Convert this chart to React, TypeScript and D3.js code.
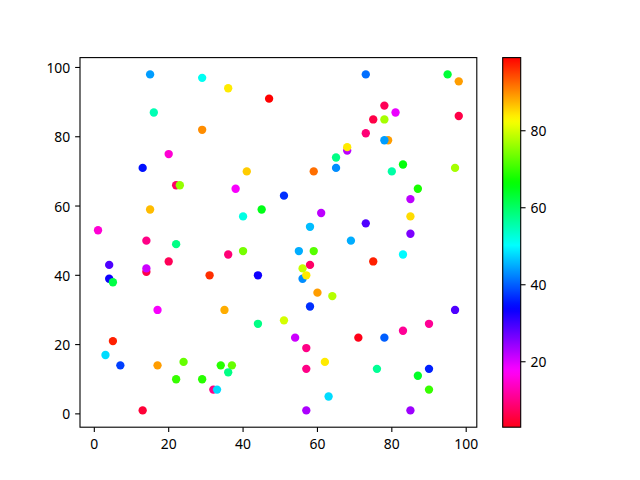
import React from "react";
import * as d3 from "d3";

// ---- data ----
const xs = [15, 29, 16, 29, 20, 13, 36, 47, 41, 59, 65, 65, 68, 68, 73, 95, 98, 78, 81, 75, 78, 98, 73, 79, 78, 83, 80, 97, 22, 23, 15, 1, 14, 22, 20, 4, 14, 14, 4, 5, 31, 38, 51, 45, 40, 61, 58, 36, 40, 55, 59, 56, 58, 56, 57, 44, 60, 64, 58, 87, 85, 85, 73, 85, 69, 83, 75, 17, 5, 3, 7, 17, 24, 22, 29, 32, 33, 13, 35, 44, 51, 54, 57, 62, 57, 34, 37, 36, 63, 57, 97, 90, 83, 71, 78, 76, 90, 87, 90, 85];
const ys = [98, 97, 87, 82, 75, 71, 94, 91, 70, 70, 71, 74, 76, 77, 98, 98, 96, 89, 87, 85, 85, 86, 81, 79, 79, 72, 70, 71, 66, 66, 59, 53, 50, 49, 44, 43, 41, 42, 39, 38, 40, 65, 63, 59, 57, 58, 54, 46, 47, 47, 47, 42, 43, 39, 40, 40, 35, 34, 31, 65, 62, 57, 55, 52, 50, 46, 44, 30, 21, 17, 14, 14, 15, 10, 10, 7, 7, 1, 30, 26, 27, 22, 19, 15, 13, 14, 14, 12, 5, 1, 30, 26, 24, 22, 22, 13, 13, 11, 7, 1];
const cs = [44, 51, 55, 90, 15, 35, 84, 99, 86, 92, 43, 58, 22, 84, 41, 63, 89, 7, 19, 6, 77, 6, 9, 89, 44, 66, 56, 77, 8, 76, 87, 15, 10, 58, 7, 29, 6, 21, 33, 62, 96, 18, 37, 65, 52, 22, 46, 9, 74, 45, 72, 79, 8, 43, 84, 33, 89, 78, 37, 68, 22, 85, 29, 26, 45, 50, 97, 18, 97, 48, 38, 89, 73, 70, 69, 10, 48, 5, 88, 58, 80, 21, 10, 84, 10, 69, 73, 58, 48, 23, 29, 11, 11, 3, 40, 57, 36, 64, 70, 24];
const xTicks = [0, 20, 40, 60, 80, 100];
const yTicks = [0, 20, 40, 60, 80, 100];
const cTicks = [20, 40, 60, 80];

// matplotlib "hsv" segment data; we use its reverse (hsv_r)
const HSV: Record<string, [number, number][]> = {
  r: [[0, 1], [0.15873, 1], [0.174603, 0.96875], [0.333333, 0.03125], [0.349206, 0], [0.666667, 0], [0.68254, 0.03125], [0.84127, 0.96875], [0.857143, 1], [1, 1]],
  g: [[0, 0], [0.15873, 0.9375], [0.174603, 1], [0.507937, 1], [0.666667, 0.0625], [0.68254, 0], [1, 0]],
  b: [[0, 0], [0.333333, 0], [0.349206, 0.0625], [0.507937, 1], [0.84127, 1], [0.857143, 0.9375], [1, 0.09375]],
};
function seg(pts: [number, number][], t: number) {
  for (let i = 1; i < pts.length; i++) {
    if (t <= pts[i][0]) {
      const [x0, y0] = pts[i - 1];
      const [x1, y1] = pts[i];
      return y0 + ((t - x0) / (x1 - x0 || 1)) * (y1 - y0);
    }
  }
  return pts[pts.length - 1][1];
}
function hsvR(t: number) {
  const s = 1 - Math.max(0, Math.min(1, t));
  const r = Math.round(seg(HSV.r, s) * 255);
  const g = Math.round(seg(HSV.g, s) * 255);
  const b = Math.round(seg(HSV.b, s) * 255);
  return `rgb(${r},${g},${b})`;
}

const W = 640, H = 480;
const AX = { l: 80, r: 476.8, t: 57.6, b: 427.2 };
const CB = { l: 502.7, r: 520.7, t: 57.6, b: 427.2 };
const FONT = "'Noto Sans', 'DejaVu Sans', sans-serif";
const FS = 13.9;
const TICK = 4.86;

export default function App() {
  const [xmin, xmax] = d3.extent(xs) as [number, number];
  const [ymin, ymax] = d3.extent(ys) as [number, number];
  const [cmin, cmax] = d3.extent(cs) as [number, number];
  const xm = (xmax - xmin) * 0.05, ym = (ymax - ymin) * 0.05;
  const x = d3.scaleLinear().domain([xmin - xm, xmax + xm]).range([AX.l, AX.r]);
  const y = d3.scaleLinear().domain([ymin - ym, ymax + ym]).range([AX.b, AX.t]);
  const cNorm = d3.scaleLinear().domain([cmin, cmax]).range([0, 1]);
  const cy = d3.scaleLinear().domain([cmin, cmax]).range([CB.b, CB.t]);
  const stops = d3.range(0, 129).map((i) => i / 128);

  return (
    <svg width={W} height={H} style={{ position: "absolute", left: 0, top: 0, background: "#fff" }} fontFamily={FONT}>
      <rect x={0} y={0} width={W} height={H} fill="#fff" />
      <defs>
        <linearGradient id="cbar" x1="0" y1="1" x2="0" y2="0">
          {stops.map((t) => (
            <stop key={t} offset={t} stopColor={hsvR(t)} />
          ))}
        </linearGradient>
      </defs>
      {/* points */}
      {xs.map((xv, i) => (
        <circle key={i} cx={x(xv)} cy={y(ys[i])} r={4.17} fill={hsvR(cNorm(cs[i]))} />
      ))}
      {/* spines */}
      <rect x={AX.l} y={AX.t} width={AX.r - AX.l} height={AX.b - AX.t} fill="none" stroke="#000" strokeWidth={1.1} />
      {/* x ticks */}
      {xTicks.map((t) => (
        <g key={"x" + t}>
          <line x1={x(t)} x2={x(t)} y1={AX.b} y2={AX.b + TICK} stroke="#000" strokeWidth={1.1} />
          <text x={x(t)} y={AX.b + TICK + 4.9} textAnchor="middle" dominantBaseline="hanging" fontSize={FS} fill="#000">{t}</text>
        </g>
      ))}
      {/* y ticks */}
      {yTicks.map((t) => (
        <g key={"y" + t}>
          <line x1={AX.l - TICK} x2={AX.l} y1={y(t)} y2={y(t)} stroke="#000" strokeWidth={1.1} />
          <text x={AX.l - TICK - 4.9} y={y(t)} textAnchor="end" dominantBaseline="central" fontSize={FS} fill="#000">{t}</text>
        </g>
      ))}
      {/* colorbar */}
      <rect x={CB.l} y={CB.t} width={CB.r - CB.l} height={CB.b - CB.t} fill="url(#cbar)" />
      <rect x={CB.l} y={CB.t} width={CB.r - CB.l} height={CB.b - CB.t} fill="none" stroke="#000" strokeWidth={1.1} />
      {cTicks.map((t) => (
        <g key={"c" + t}>
          <line x1={CB.r} x2={CB.r + TICK} y1={cy(t)} y2={cy(t)} stroke="#000" strokeWidth={1.1} />
          <text x={CB.r + TICK + 4.9} y={cy(t)} textAnchor="start" dominantBaseline="central" fontSize={FS} fill="#000">{t}</text>
        </g>
      ))}
    </svg>
  );
}
